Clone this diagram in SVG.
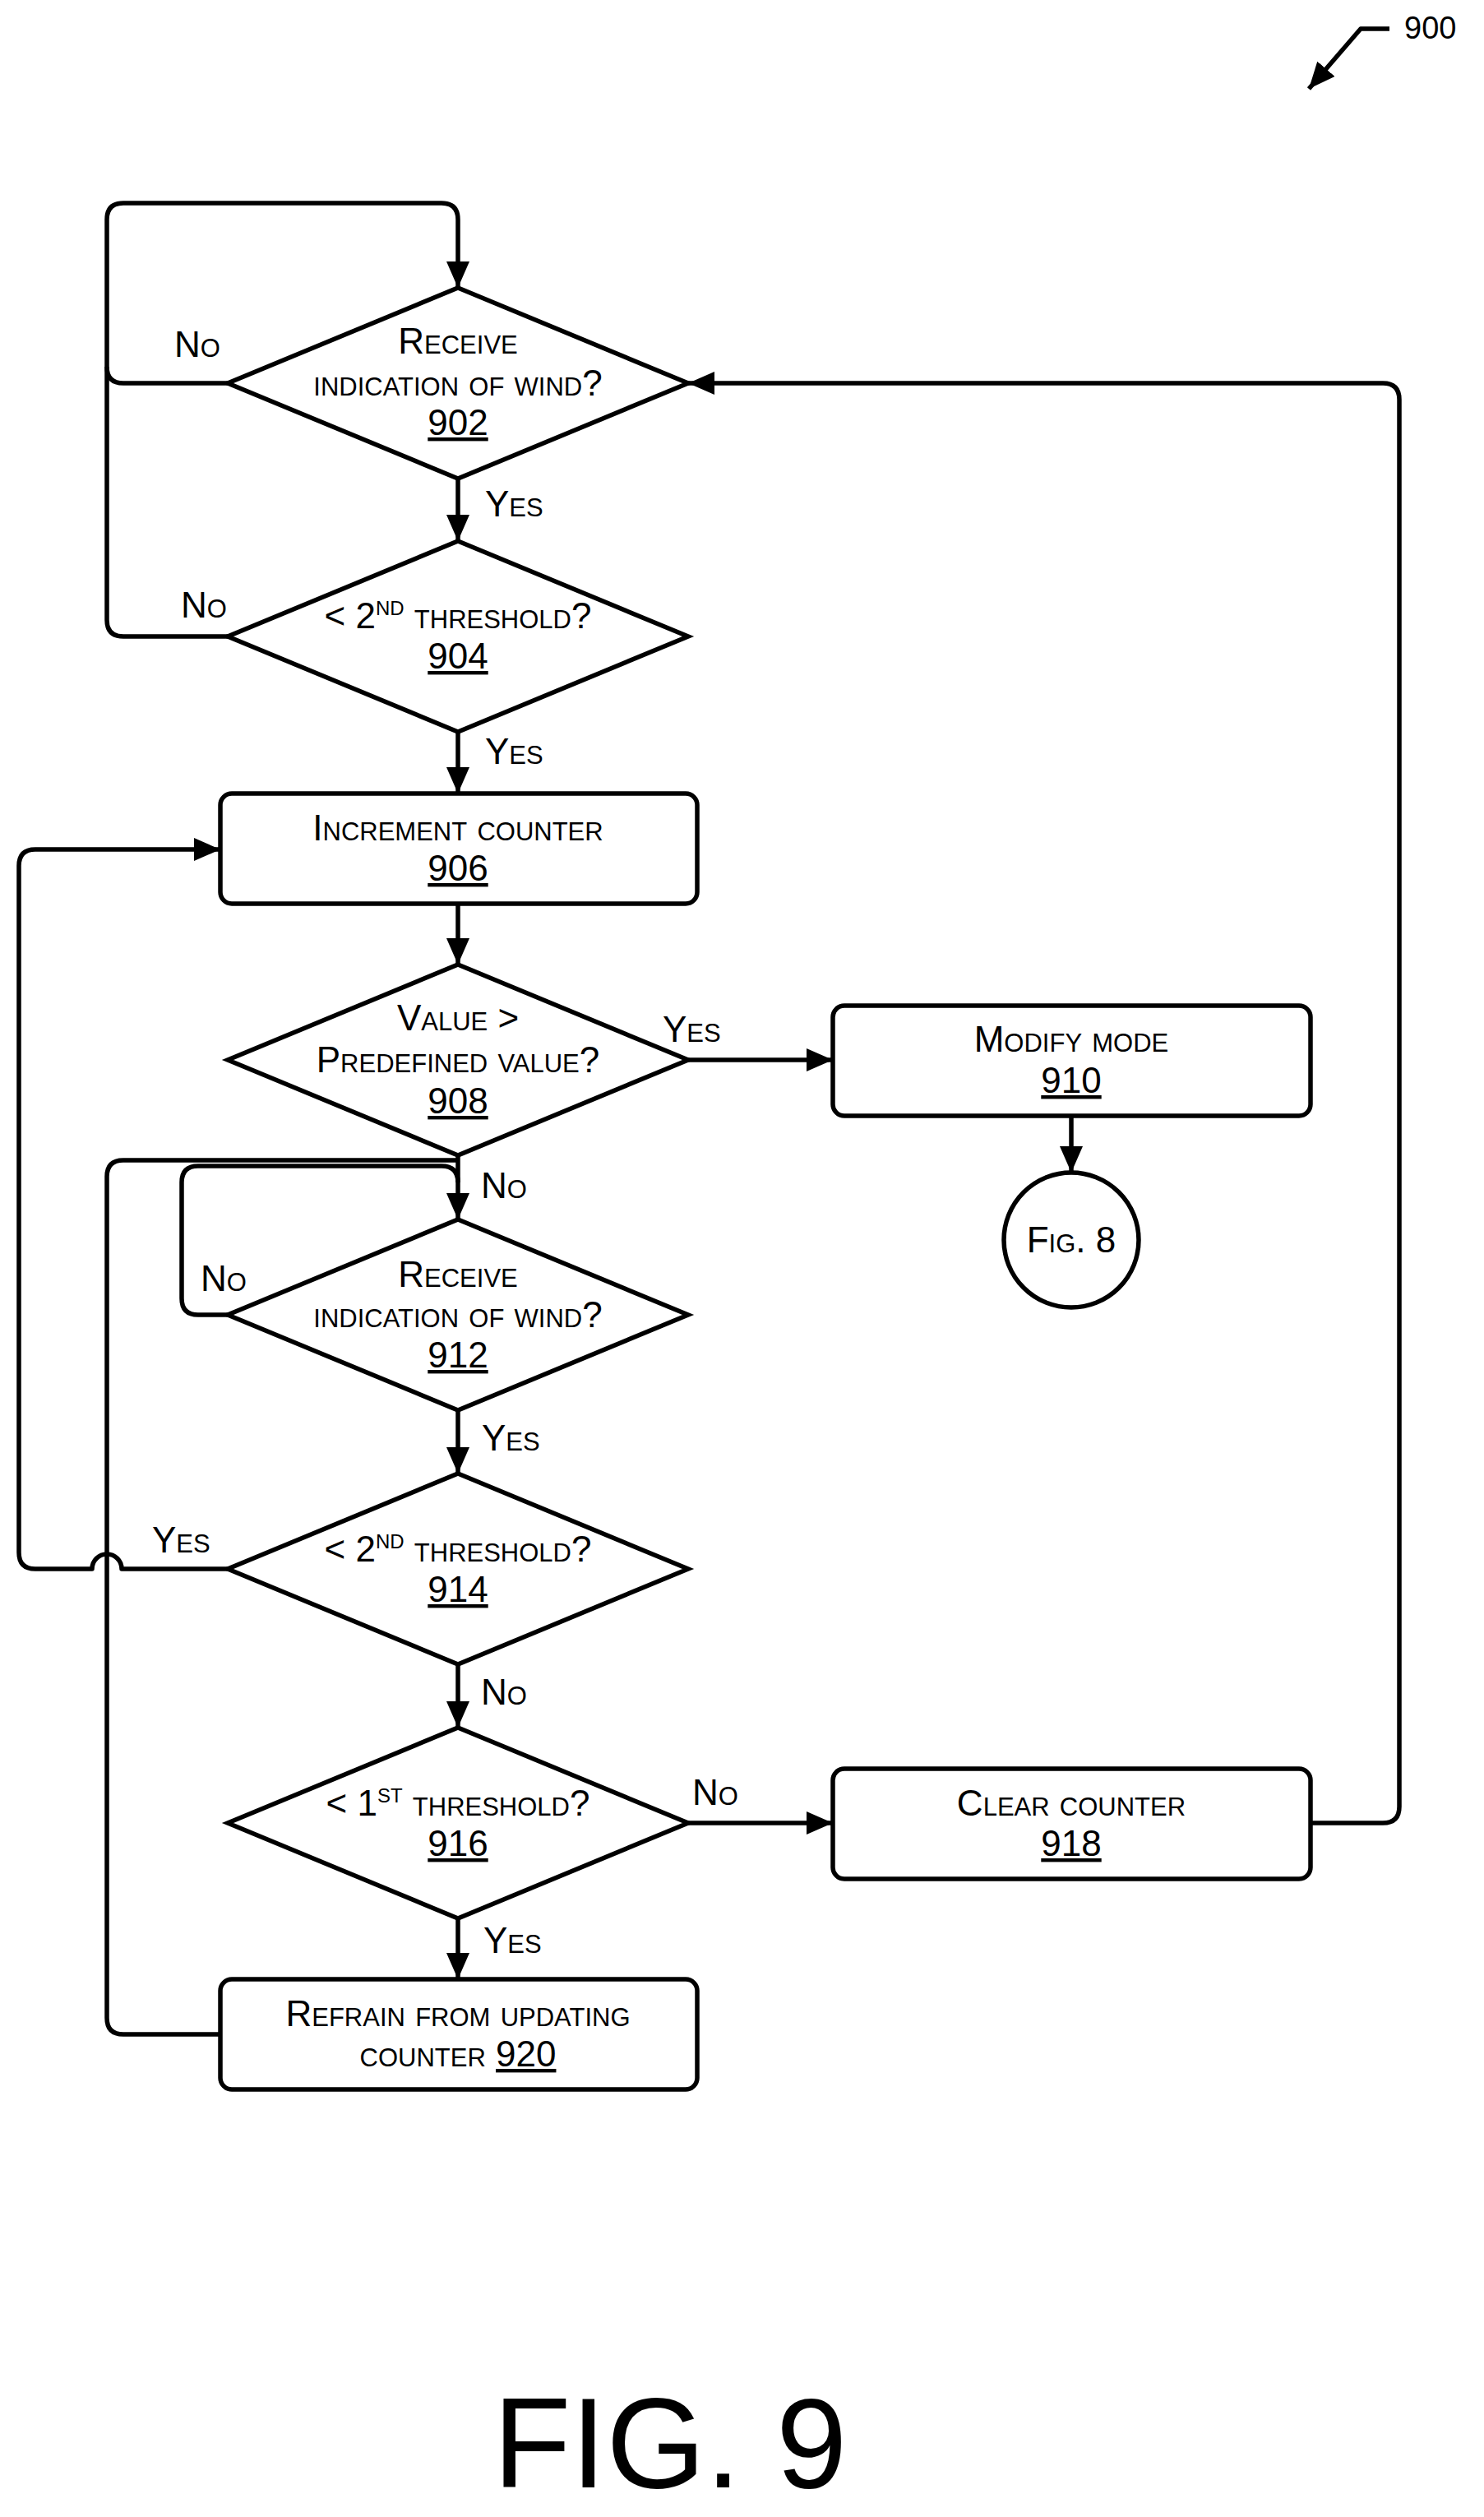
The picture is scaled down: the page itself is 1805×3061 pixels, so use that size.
<svg xmlns="http://www.w3.org/2000/svg" width="1805" height="3061" viewBox="0 0 1805 3061">
<style>
.s{fill:#fff;stroke:#000;stroke-width:5.5}
.c{fill:none;stroke:#000;stroke-width:5.5;stroke-linejoin:round}
text{font-family:"Liberation Sans",Arial,sans-serif;font-size:44px;font-variant:small-caps;fill:#000}
.m{text-anchor:middle}
.u{text-decoration:underline}
.sup{font-size:24px}
</style>
<defs>
<marker id="a" markerUnits="userSpaceOnUse" markerWidth="32" markerHeight="28" refX="32" refY="14" orient="auto"><path d="M0,0L32,14L0,28z" fill="#000"/></marker>
</defs>
<rect width="1805" height="3061" fill="#fff"/>
<g id="connectors">
<path class="c" d="M277,466L150,466Q130,466 130,446L130,267Q130,247 150,247L537,247Q557,247 557,267L557,350" marker-end="url(#a)"/>
<path class="c" d="M277,774L150,774Q130,774 130,754L130,446"/>
<path class="c" d="M557,582L557,658" marker-end="url(#a)"/>
<path class="c" d="M557,890L557,965" marker-end="url(#a)"/>
<path class="c" d="M557,1099L557,1173" marker-end="url(#a)"/>
<path class="c" d="M837,1289L1013,1289" marker-end="url(#a)"/>
<path class="c" d="M1303,1357L1303,1426" marker-end="url(#a)"/>
<path class="c" d="M557,1405L557,1483" marker-end="url(#a)"/>
<path class="c" d="M268,2474L150,2474Q130,2474 130,2454L130,1431Q130,1411 150,1411L557,1411"/>
<path class="c" d="M277,1599L241,1599Q221,1599 221,1579L221,1438Q221,1418 241,1418L537,1418Q557,1418 557,1438"/>
<path class="c" d="M557,1715L557,1792" marker-end="url(#a)"/>
<path class="c" d="M277,1908L148,1908A18,18 0 0 0 112,1908L43,1908Q23,1908 23,1888L23,1053Q23,1033 43,1033L268,1033" marker-end="url(#a)"/>
<path class="c" d="M557,2024L557,2101" marker-end="url(#a)"/>
<path class="c" d="M837,2217L1013,2217" marker-end="url(#a)"/>
<path class="c" d="M557,2333L557,2407" marker-end="url(#a)"/>
<path class="c" d="M1594,2217L1682,2217Q1702,2217 1702,2197L1702,486Q1702,466 1682,466L837,466" marker-end="url(#a)"/>
<path class="c" d="M1690,35L1655,35L1592,108" marker-end="url(#a)"/>
</g>
<g id="n902"><path class="s" d="M557,350L837,466L557,582L277,466z"/><text class="m" x="557" y="430">Receive</text><text class="m" x="557" y="481">indication of wind?</text><text class="m u" x="557" y="529">902</text></g>
<g id="n904"><path class="s" d="M557,658L837,774L557,890L277,774z"/><text class="m" x="557" y="764">&lt; 2<tspan class="sup" dy="-16">ND</tspan><tspan dy="16"> threshold?</tspan></text><text class="m u" x="557" y="813">904</text></g>
<g id="n906"><rect class="s" x="268" y="965" width="580" height="134" rx="14"/><text class="m" x="557" y="1022">Increment counter</text><text class="m u" x="557" y="1071">906</text></g>
<g id="n908"><path class="s" d="M557,1173L837,1289L557,1405L277,1289z"/><text class="m" x="557" y="1253">Value &gt;</text><text class="m" x="557" y="1304">Predefined value?</text><text class="m u" x="557" y="1354">908</text></g>
<g id="n910"><rect class="s" x="1013" y="1223" width="581" height="134" rx="14"/><text class="m" x="1303" y="1279">Modify mode</text><text class="m u" x="1303" y="1329">910</text></g>
<g id="fig8"><circle class="s" cx="1303" cy="1508" r="82"/><text class="m" x="1303" y="1523">Fig. 8</text></g>
<g id="n912"><path class="s" d="M557,1483L837,1599L557,1715L277,1599z"/><text class="m" x="557" y="1565">Receive</text><text class="m" x="557" y="1614">indication of wind?</text><text class="m u" x="557" y="1663">912</text></g>
<g id="n914"><path class="s" d="M557,1792L837,1908L557,2024L277,1908z"/><text class="m" x="557" y="1899">&lt; 2<tspan class="sup" dy="-16">ND</tspan><tspan dy="16"> threshold?</tspan></text><text class="m u" x="557" y="1948">914</text></g>
<g id="n916"><path class="s" d="M557,2101L837,2217L557,2333L277,2217z"/><text class="m" x="557" y="2208">&lt; 1<tspan class="sup" dy="-16">ST</tspan><tspan dy="16">  threshold?</tspan></text><text class="m u" x="557" y="2257">916</text></g>
<g id="n918"><rect class="s" x="1013" y="2151" width="581" height="134" rx="14"/><text class="m" x="1303" y="2208">Clear counter</text><text class="m u" x="1303" y="2257">918</text></g>
<g id="n920"><rect class="s" x="268" y="2407" width="580" height="134" rx="14"/><text class="m" x="557" y="2464">Refrain from updating</text><text class="m" x="557" y="2513">counter <tspan class="u">920</tspan></text></g>
<g id="labels">
<text x="212" y="434">No</text>
<text x="220" y="751">No</text>
<text x="590" y="628">Yes</text>
<text x="590" y="929">Yes</text>
<text x="806" y="1267">Yes</text>
<text x="585" y="1457">No</text>
<text x="244" y="1570">No</text>
<text x="586" y="1764">Yes</text>
<text x="185" y="1888">Yes</text>
<text x="585" y="2073">No</text>
<text x="842" y="2195">No</text>
<text x="588" y="2375">Yes</text>
<text x="1708" y="47" style="font-variant:normal;font-size:38px">900</text>
<text x="815" y="3025" class="m" style="font-variant:normal;font-size:155px">FIG. 9</text>
</g>
</svg>
